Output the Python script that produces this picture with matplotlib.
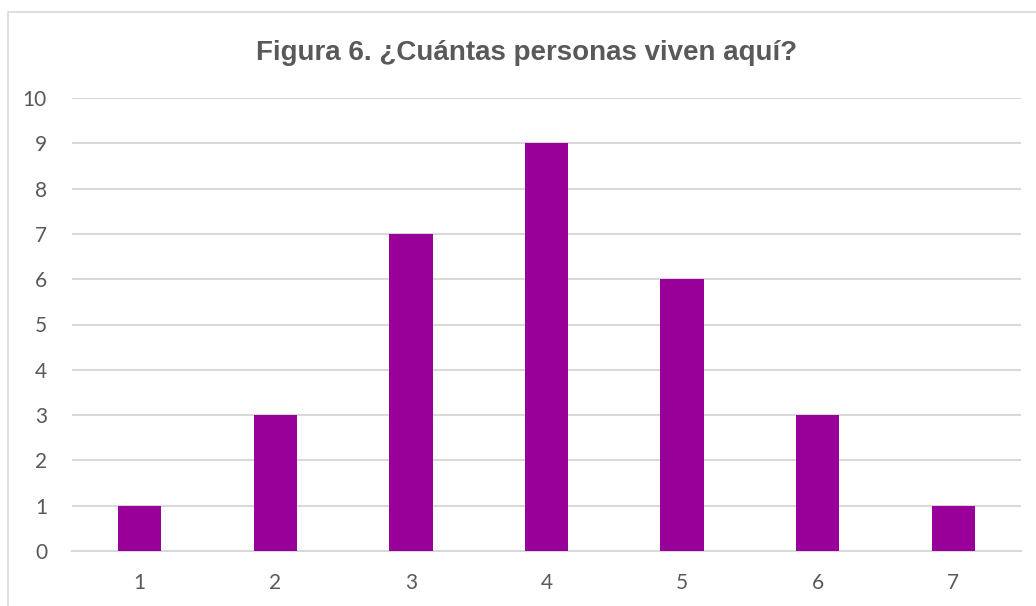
import matplotlib.pyplot as plt
from matplotlib.patches import Rectangle

categories = ['1', '2', '3', '4', '5', '6', '7']
values = [1, 3, 7, 9, 6, 3, 1]
y_ticks = list(range(0, 11))

W, H = 1036, 606
fig = plt.figure(figsize=(W / 100, H / 100), dpi=100)
fig.patch.set_facecolor('white')

# outer chart border (continues past right and bottom edges)
fig.patches.append(Rectangle((8 / W, -0.05), 1.05, (H - 12) / H + 0.05,
                             transform=fig.transFigure, fill=False,
                             edgecolor='#d9d9d9', linewidth=1.2))

ax = fig.add_axes([72 / W, 55 / H, (1021 - 72) / W, (551 - 98) / H])
x = range(len(categories))
ax.bar(x, values, width=0.32, color='#990099', zorder=3)

ax.set_xlim(-0.5, len(categories) - 0.5)
ax.set_ylim(0, 10)
ax.set_yticks(y_ticks)
ax.set_xticks(list(x))
ax.set_xticklabels(categories)
ax.grid(axis='y', color='#d9d9d9', linewidth=1.5, zorder=0)
ax.set_axisbelow(True)
for s in ['top', 'right', 'left']:
    ax.spines[s].set_visible(False)
ax.spines['bottom'].set_color('#d9d9d9')
ax.spines['bottom'].set_linewidth(1.5)
ax.tick_params(axis='both', length=0, labelsize=15, labelcolor='#595959')
ax.tick_params(axis='y', pad=18)
ax.tick_params(axis='x', pad=16)
for lab in ax.get_xticklabels() + ax.get_yticklabels():
    lab.set_fontfamily('Lato')

fig.text(527 / W, 1 - 53 / H, 'Figura 6. ¿Cuántas personas viven aquí?',
         ha='center', va='center', fontsize=20, fontweight='bold',
         color='#595959', family='Liberation Sans')

fig.savefig('out.png', dpi=100, facecolor='white')
